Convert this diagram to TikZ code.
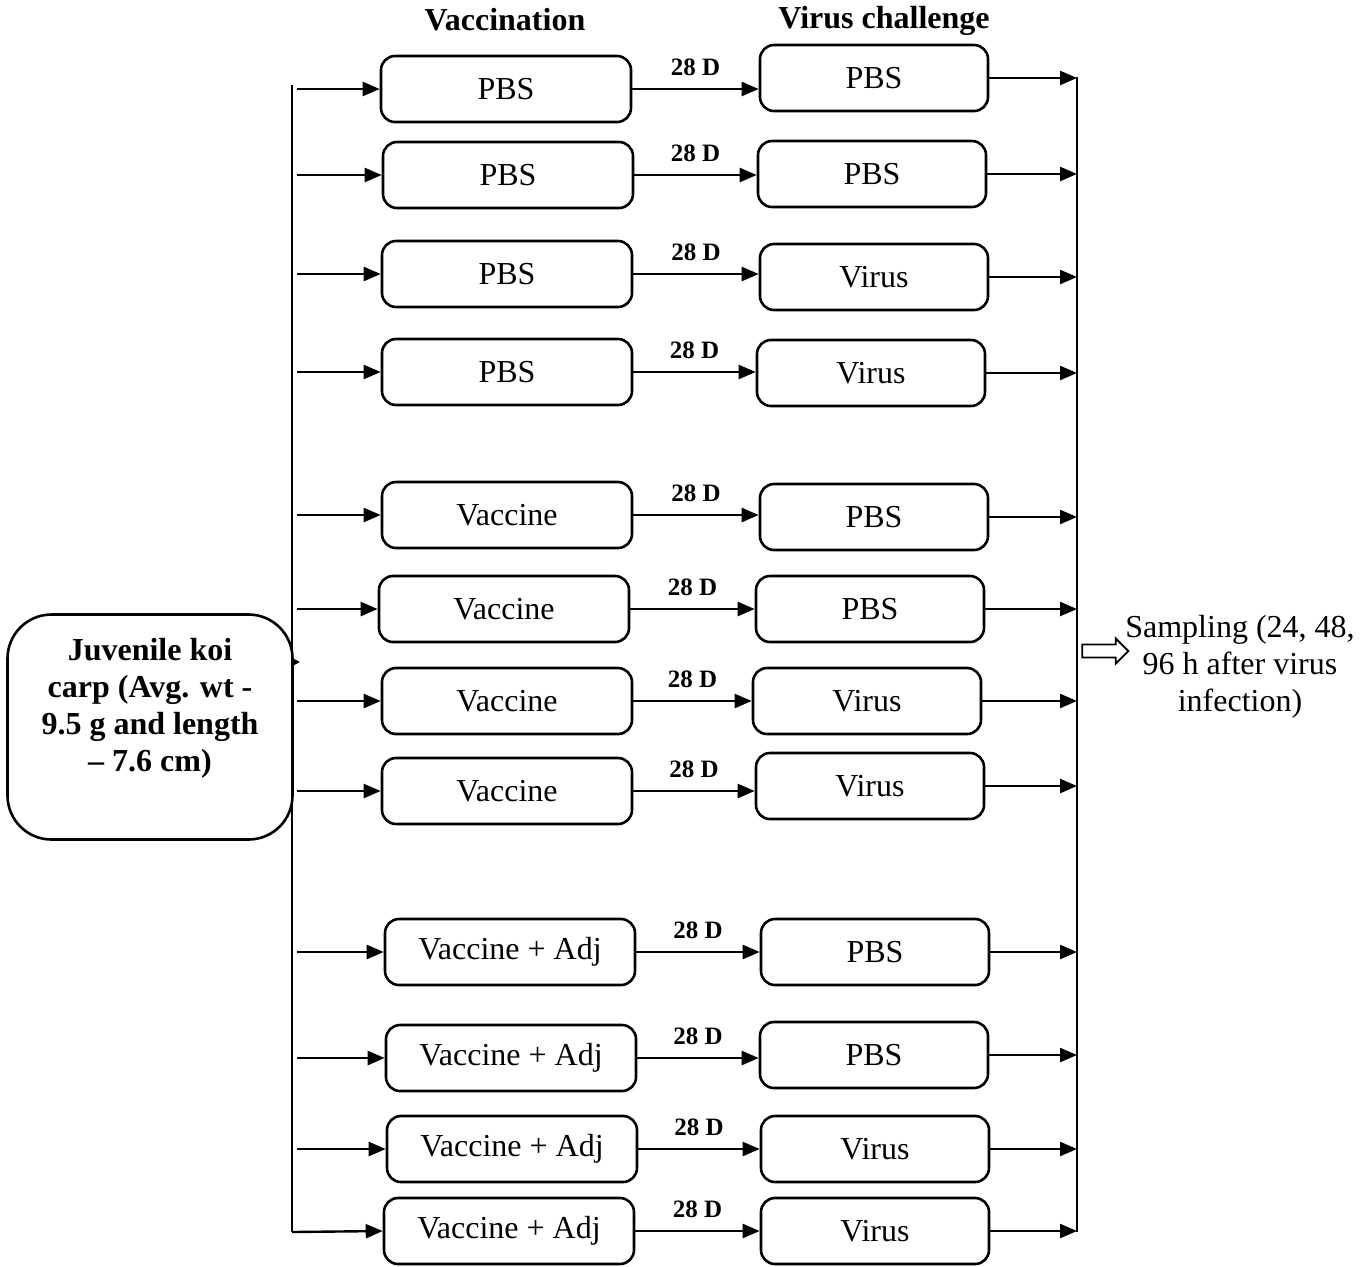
\documentclass[tikz,border=0pt]{standalone}
\usepackage{fontspec}
\setmainfont{Liberation Serif}
\usetikzlibrary{positioning,arrows.meta,shapes.arrows}
\tikzset{
  grpbox/.style={draw, line width=1.3pt, rounded corners=7pt, minimum height=33pt, inner sep=2pt,
                 font=\fontsize{16}{18.5}\selectfont},
  flowarrow/.style={line width=1.2pt, -{Triangle[length=8.5pt,width=7pt]}},
  daylabel/.style={font=\bfseries\fontsize{12.5}{14}\selectfont, inner sep=1pt}
}
\begin{document}
\begin{tikzpicture}[x=0.5pt,y=-0.5pt]
				\useasboundingbox (0,0) rectangle (1365,1266);
				% headings
				\node[font=\bfseries\fontsize{16}{18.5}\selectfont, anchor=base] (hvacc) at (505,30) {Vaccination};
				\node[font=\bfseries\fontsize{16}{18.5}\selectfont, anchor=base] (hchal) at (884,28) {Virus challenge};
				% fish group
				\node[draw, line width=1.3pt, rounded corners=22pt, minimum width=142.5pt, minimum height=112.5pt] (koi) at (150,727) {};
				\node[font=\bfseries\fontsize{16}{18.5}\selectfont, align=center] (koitxt) at (150,708)
				{Juvenile koi\\carp (Avg. wt -\\9.5 g and length\\-- 7.6 cm)};
				\coordinate []  (ltop) at (292,85) ;
				\coordinate []  (lbot) at (292,1232) ;
				\coordinate []  (rtop) at (1077,77) ;
				\coordinate []  (rbot) at (1077,1232) ;
				\coordinate []  (tick) at (300,662) ;
				\draw[line width=1.3pt] (ltop) -- (lbot);
				\draw[line width=1.3pt] (rtop) -- (rbot);
				\draw[line width=0.8pt, -{Triangle[length=4pt,width=4pt]}] (koi.east |- tick) -- (tick);
				% groups
				\foreach \i/\xv/\yv/\xc/\yc/\vl/\cl in {
					1/506/89/874/78/PBS/PBS,
					2/508/175/872/174/PBS/PBS,
					3/507/274/874/277/PBS/Virus,
					4/507/372/871/373/PBS/Virus,
					5/507/515/874/517/Vaccine/PBS,
					6/504/609/870/609/Vaccine/PBS,
					7/507/701/867/701/Vaccine/Virus,
					8/507/791/870/786/Vaccine/Virus,
					9/510/952/875/952/{Vaccine + Adj}/PBS,
					10/511/1058/874/1055/{Vaccine + Adj}/PBS,
					11/512/1149/875/1149/{Vaccine + Adj}/Virus,
					12/509/1231/875/1231/{Vaccine + Adj}/Virus}
				{
					\node[grpbox, minimum width=125pt] (v\i) at (\xv,\yv) {\vl};
					\node[grpbox, minimum width=114pt] (c\i) at (\xc,\yc) {\cl};
					\draw[flowarrow] (v\i.east) -- node[daylabel, above=5pt] {28 D} (c\i.west |- v\i.east);
					\draw[flowarrow] (c\i.east) -- (rtop |- c\i.east);
				}
				\foreach \i in {1,...,11}
				{
					\draw[flowarrow] (297,0 |- v\i.west) -- (v\i.west);
				}
				\draw[flowarrow] (lbot) -- (v12.west);
				% sampling
				\node[draw, single arrow, line width=0.9pt, minimum height=23pt, minimum width=11.5pt,
				      single arrow head extend=3pt, inner sep=2.8pt] (samp) at (1102,651) {};
				\node[font=\fontsize{16}{18.5}\selectfont, align=center] (samptxt) at (1240,667)
				{Sampling (24, 48,\\96 h after virus\\infection)};
\end{tikzpicture}
\end{document}
